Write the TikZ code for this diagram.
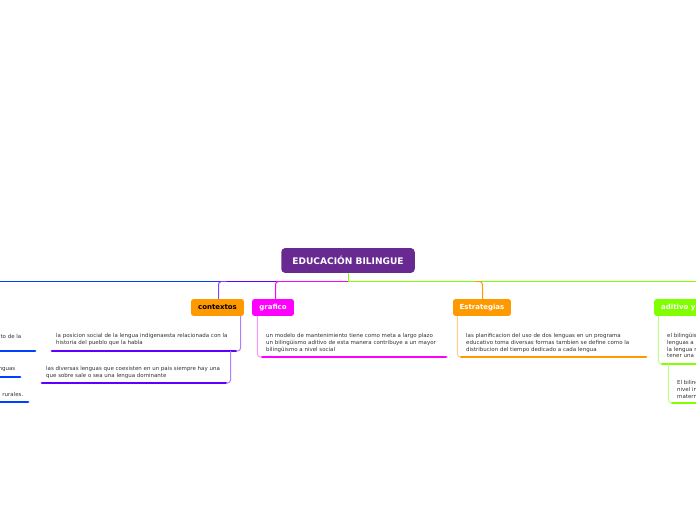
\documentclass[tikz,border=0pt]{standalone}
\usepackage{fontspec}
\setmainfont{DejaVu Sans}
\definecolor{cpurple}{RGB}{104,42,145}
\definecolor{corange}{RGB}{255,153,0}
\definecolor{cmag}{RGB}{255,0,255}
\definecolor{clime}{RGB}{128,255,0}
\definecolor{cviolet}{RGB}{94,0,255}
\definecolor{cblue}{RGB}{0,64,255}
\definecolor{mviolet}{RGB}{130,70,255}
\definecolor{lviolet}{RGB}{170,130,255}
\definecolor{lmag}{RGB}{255,150,255}
\definecolor{lorange}{RGB}{255,205,140}
\definecolor{llime}{RGB}{190,255,140}
\definecolor{ctext}{RGB}{51,51,51}
\tikzset{
  branchbox/.style={rounded corners=2.5, minimum height=17, inner sep=0, font=\fontsize{7}{8}\selectfont\bfseries},
  leaftext/.style={anchor=north west, inner sep=0, align=left, text=ctext, font=\fontsize{5.5}{6.7}\selectfont},
  uline/.style={line width=3, line cap=round},
  conn/.style={line width=1, rounded corners=3},
  mainline/.style={line width=1}
}
\begin{document}
\begin{tikzpicture}[x=1bp,y=-1bp]
\useasboundingbox (0,0) rectangle (696,520);
\clip (0,0) rectangle (696,520);
\fill[white] (0,0) rectangle (696,520);

% central node
\node[fill=cpurple, rounded corners=4, minimum width=134, minimum height=25, inner sep=0,
      text=white, font=\fontsize{9.1}{10}\selectfont\bfseries] (ctr) at (348,260.5) {EDUCACIÓN BILINGUE};

% main horizontal line coordinates
\coordinate (mL) at (0,281.5);
\coordinate (mA) at (218.5,281.5);
\coordinate (mB) at (275.5,281.5);
\coordinate (mC) at (348.5,281.5);
\coordinate (mR) at (696,281.5);
\draw[mainline, cblue] (mL) -- (mA);
\draw[mainline, cviolet] (mA) -- (mB);
\draw[mainline, cmag] (mB) -- (mC);
\draw[mainline, clime] (mC) -- (mR);
\draw[mainline, clime] (ctr.south -| mC) -- (mC);

% branch nodes
\node[branchbox, fill=corange, minimum width=53, text=black] (ctx) at (217.5,307.5) {contextos};
\node[branchbox, fill=cmag, minimum width=42, text=white] (gr) at (273,307.5) {grafico};
\node[branchbox, fill=corange, minimum width=58, text=white] (est) at (482,307.5) {Estrategias};
\node[branchbox, fill=clime, minimum width=70, text=white, anchor=west, inner xsep=7] (adi) at (654,307.5) {aditivo y bilingüe};

% branch connectors
\draw[conn, mviolet] (ctx.north -| mA) |- ([xshift=8]mA);
\draw[conn, cmag] (gr.north -| mB) |- ([xshift=8]mB);
\coordinate (mE) at (482.5,281.5);
\draw[conn, corange] (est.north -| mE) |- ([xshift=-8]mE);

% contextos children
\node[leaftext] (t1) at (56,333.4) {la posicion social de la lengua indigenaesta relacionada con la\\historia del pueblo que la habla};
\coordinate (u1l) at (52,351); \coordinate (u1r) at (236,351);
\draw[uline, cviolet] (u1l) -- (u1r);
\draw[conn, lviolet] ([xshift=-3.5]ctx.south east) |- (u1r);

\node[leaftext] (t2) at (46,366.4) {las diversas lenguas que coexisten en un pais siempre hay una\\que sobre sale  o sea una lengua dominante};
\coordinate (u2l) at (42,383); \coordinate (u2r) at (226,383);
\draw[uline, cviolet] (u2l) -- (u2r);
\draw[conn, lviolet] ([xshift=-5.5]u1r) |- (u2r);

% grafico child
\node[leaftext] (t3) at (266,333.4) {un modelo de mantenimiento tiene como meta  a largo plazo\\un bilingüismo aditivo de esta manera contribuye  a un mayor\\bilingüismo a nivel social};
\coordinate (u3l) at (262,357); \coordinate (u3r) at (446,357);
\draw[uline, cmag] (u3l) -- (u3r);
\draw[conn, lmag] ([xshift=5.5]gr.south west) |- (u3l);

% estrategias child
\node[leaftext] (t4) at (466,333.4) {las planificacion del uso de dos lenguas en un programa\\educativo toma diversas formas  tambien se define como la\\distribucion  del tiempo dedicado a cada lengua};
\coordinate (u4l) at (461,357); \coordinate (u4r) at (646,357);
\draw[uline, corange] (u4l) -- (u4r);
\draw[conn, lorange] ([xshift=4.5]est.south west) |- (u4l);

% aditivo children
\node[leaftext] (t5) at (667,333.4) {el bilingüismo\\lenguas a\\la lengua m\\tener una};
\coordinate (u5l) at (662,364); \coordinate (u5r) at (700,364);
\draw[uline, clime] (u5l) -- (u5r);
\draw[conn, llime] ([xshift=4.5]adi.south west) |- (u5l);

\node[leaftext] (t6) at (677,380.4) {El bilingüe\\nivel in\\materna};
\coordinate (u6l) at (672,403); \coordinate (u6r) at (700,403);
\draw[uline, clime] (u6l) -- (u6r);
\draw[conn, llime] ([xshift=6.5]u5l) |- (u6l);

% cut-off items on the left
\node[leaftext, anchor=north east] (t7) at (21.5,334) {to de la};
\coordinate (u7l) at (-5,351); \coordinate (u7r) at (35,351);
\draw[uline, cblue] (u7l) -- (u7r);

\node[leaftext, anchor=north east] (t8) at (15.5,367) {nguas};
\coordinate (u8l) at (-5,377); \coordinate (u8r) at (20,377);
\draw[uline, cblue] (u8l) -- (u8r);

\node[leaftext, anchor=north east] (t9) at (23.5,392) {rurales.};
\coordinate (u9l) at (-5,402); \coordinate (u9r) at (28,402);
\draw[uline, cblue] (u9l) -- (u9r);
\end{tikzpicture}
\end{document}
